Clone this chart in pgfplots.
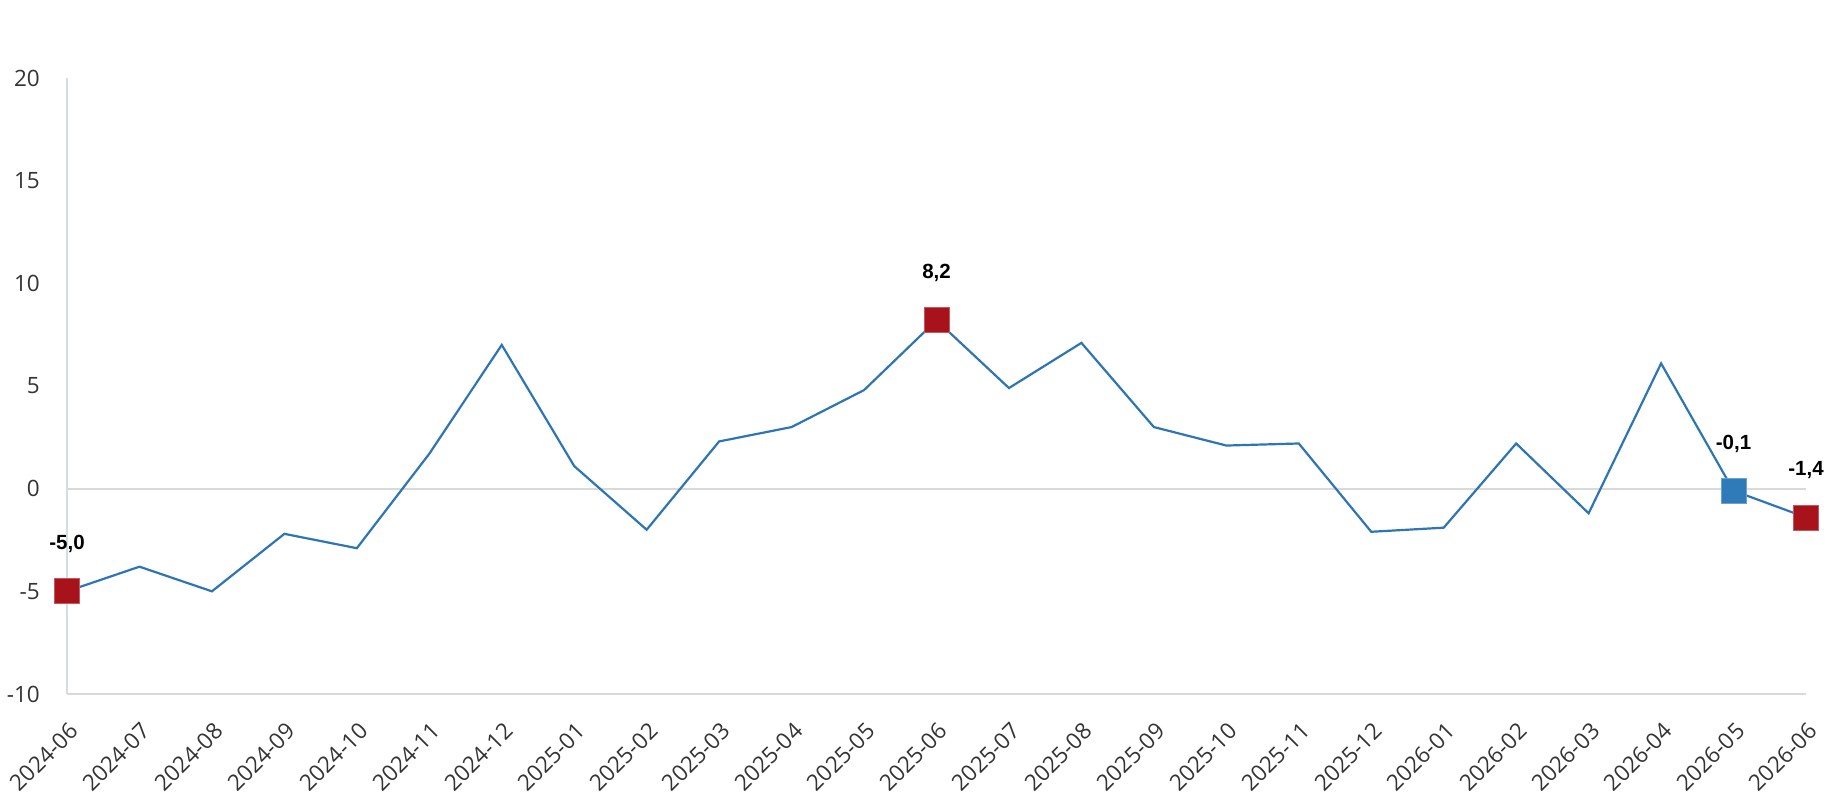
\documentclass[border=0pt]{standalone}
\usepackage{fontspec}
\setmainfont{Open Sans}
\newfontfamily\arialbold{Liberation Sans}[BoldFont={* Bold}]
\usepackage{pgfplots}
\pgfplotsset{compat=1.18}
\definecolor{lineblue}{HTML}{2E75B6}
\definecolor{mkred}{HTML}{A8121A}
\definecolor{mkblue}{HTML}{2F7AB8}
\definecolor{gridgray}{HTML}{D9D9D9}
\definecolor{yaxgray}{HTML}{D6DCE5}
\definecolor{ticktext}{HTML}{333333}
\begin{document}
\begin{tikzpicture}
\useasboundingbox (0,0) rectangle (1830pt,800pt);
\begin{axis}[
  at={(67pt,106pt)}, anchor=south west,
  scale only axis, width=1739pt, height=616pt,
  xmin=0, xmax=24, ymin=-10, ymax=20,
  enlargelimits=false, clip=false,
  axis x line*=bottom, axis y line*=left,
  x axis line style={gridgray, line width=2pt},
  y axis line style={yaxgray, line width=2pt},
  major tick length=0pt,
  xtick={0,...,24},
  xticklabels={2024-06,2024-07,2024-08,2024-09,2024-10,2024-11,2024-12,2025-01,2025-02,2025-03,2025-04,2025-05,2025-06,2025-07,2025-08,2025-09,2025-10,2025-11,2025-12,2026-01,2026-02,2026-03,2026-04,2026-05,2026-06},
  ytick={-10,-5,0,5,10,15,20},
  /pgf/number format/assume math mode=true,
  tick label style={font=\fontsize{22.5}{26}\selectfont, text=ticktext},
  xticklabel style={inner sep=0pt, xshift=7pt, yshift=-33pt, rotate=45, anchor=east},
  yticklabel style={inner sep=0pt, xshift=-27pt, anchor=east},
  nodes near coords style={font=\arialbold\bfseries\fontsize{20.5}{24}\selectfont, text=black, anchor=center, yshift=47pt},
]
\draw[gridgray, line width=2pt] (axis cs:0,0) -- (axis cs:24,0);
\addplot[lineblue, line width=2.2pt, mark=none] coordinates {
(0,-5.0) (1,-3.8) (2,-5.0) (3,-2.2) (4,-2.9) (5,1.7) (6,7.0) (7,1.1) (8,-2.0) (9,2.3) (10,3.0) (11,4.8) (12,8.2) (13,4.9) (14,7.1) (15,3.0) (16,2.1) (17,2.2) (18,-2.1) (19,-1.9) (20,2.2) (21,-1.2) (22,6.1) (23,-0.1) (24,-1.4)
};
\addplot[only marks, mark=square*, mark size=12.5pt, mark options={fill=mkred, draw=mkred!70!white, line width=0.8pt},
  point meta=explicit symbolic, nodes near coords] coordinates {
(0,-5.0) [-5,0]
(12,8.2) [8,2]
(24,-1.4) [-1,4]
};
\addplot[only marks, mark=square*, mark size=12.5pt, mark options={fill=mkblue, draw=mkblue!70!white, line width=0.8pt},
  point meta=explicit symbolic, nodes near coords] coordinates {
(23,-0.1) [-0,1]
};
\end{axis}
\end{tikzpicture}
\end{document}
